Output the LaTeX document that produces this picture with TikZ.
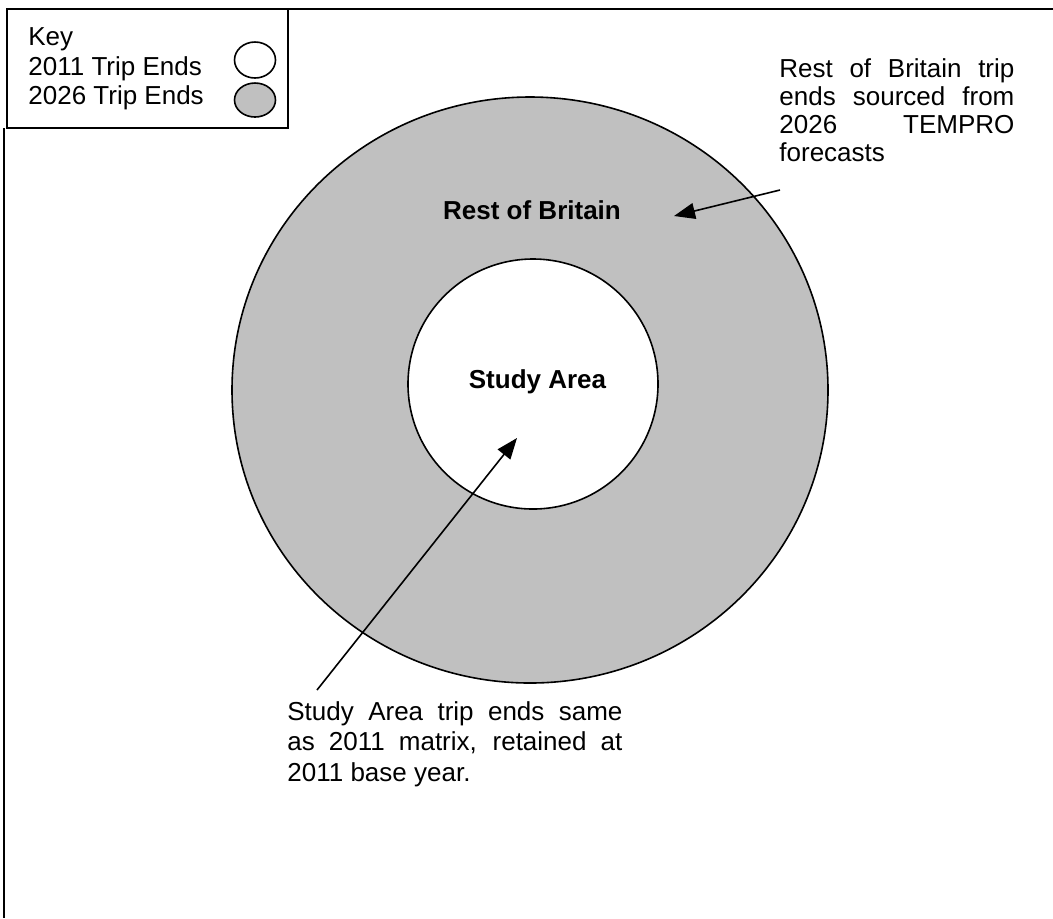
\documentclass[tikz,border=0pt]{standalone}
\usepackage{fontspec}
\setmainfont{Liberation Sans}
\usetikzlibrary{arrows.meta}
\definecolor{ringgrey}{RGB}{192,192,192}
\tikzset{
  frameline/.style={line width=1pt},
  ringline/.style={line width=0.8pt},
  notetext/.style={inner sep=0pt, font=\fontsize{13}{15.2}\selectfont, align=left},
  pointer/.style={line width=0.8pt, -{Triangle[length=10.5pt,width=8pt]}}
}
\newcommand{\fullline}[2]{\makebox[#1][s]{#2}}
\begin{document}
\begin{tikzpicture}[x=0.5pt,y=0.5pt,yscale=-1,xscale=1]
        \useasboundingbox (0,0) rectangle (1053,918);

        %Straight Lines (frame)
        \draw [frameline]  (6,9) -- (1053,9) ;
        \draw [frameline]  (4,128) -- (4,918) ;
        %Shape: Rectangle (key box)
        \draw [frameline]  (7,9) rectangle (288,128) ;

        %Shape: Ellipse (rest of Britain)
        \draw [ringline, fill=ringgrey]  (530,390) ellipse [x radius=298, y radius=293] ;
        %Shape: Circle (study area)
        \draw [ringline, fill=white]  (533,384) circle [radius=125] ;

        %Shape: Ellipse (key symbols)
        \draw [ringline, fill=white]  (255,60) ellipse [x radius=20.5, y radius=18] ;
        \draw [ringline, fill=ringgrey]  (255,100) ellipse [x radius=20.5, y radius=17] ;

        % Text Node
        \node [notetext, anchor=base west] (keyhead) at (28,45) {Key};
        % Text Node
        \node [notetext, anchor=base west] (key2011) at (28,75) {2011 Trip Ends};
        % Text Node
        \node [notetext, anchor=base west] (key2026) at (28,104) {2026 Trip Ends};

        % Text Node
        \node [notetext, font=\fontsize{13}{15.2}\selectfont\bfseries] (britain) at (532,210) {Rest of Britain};
        % Text Node
        \node [notetext, font=\fontsize{13}{15.2}\selectfont\bfseries] (study) at (537.5,382) {Study Area};

        % Text Node
        \node [notetext, font=\fontsize{13}{14}\selectfont, anchor=north west] (britnote) at (779,58)
          {\fullline{117.5pt}{Rest of Britain trip}\\
           \fullline{117.5pt}{ends sourced from}\\
           \fullline{117.5pt}{2026 TEMPRO}\\
           forecasts};
        % Text Node
        \node [notetext, anchor=north west] (studynote) at (287,701)
          {\fullline{167.5pt}{Study Area trip ends same}\\
           \fullline{167.5pt}{as 2011 matrix, retained at}\\
           2011 base year.};

        %Straight Lines (pointers)
        \coordinate (britfrom) at (780,190);
        \coordinate (britto) at (674,216);
        \coordinate (studyfrom) at (317,690);
        \coordinate (studyto) at (517,438);
        \draw [pointer]  (britfrom) -- (britto) ;
        \draw [pointer]  (studyfrom) -- (studyto) ;

\end{tikzpicture}
\end{document}
